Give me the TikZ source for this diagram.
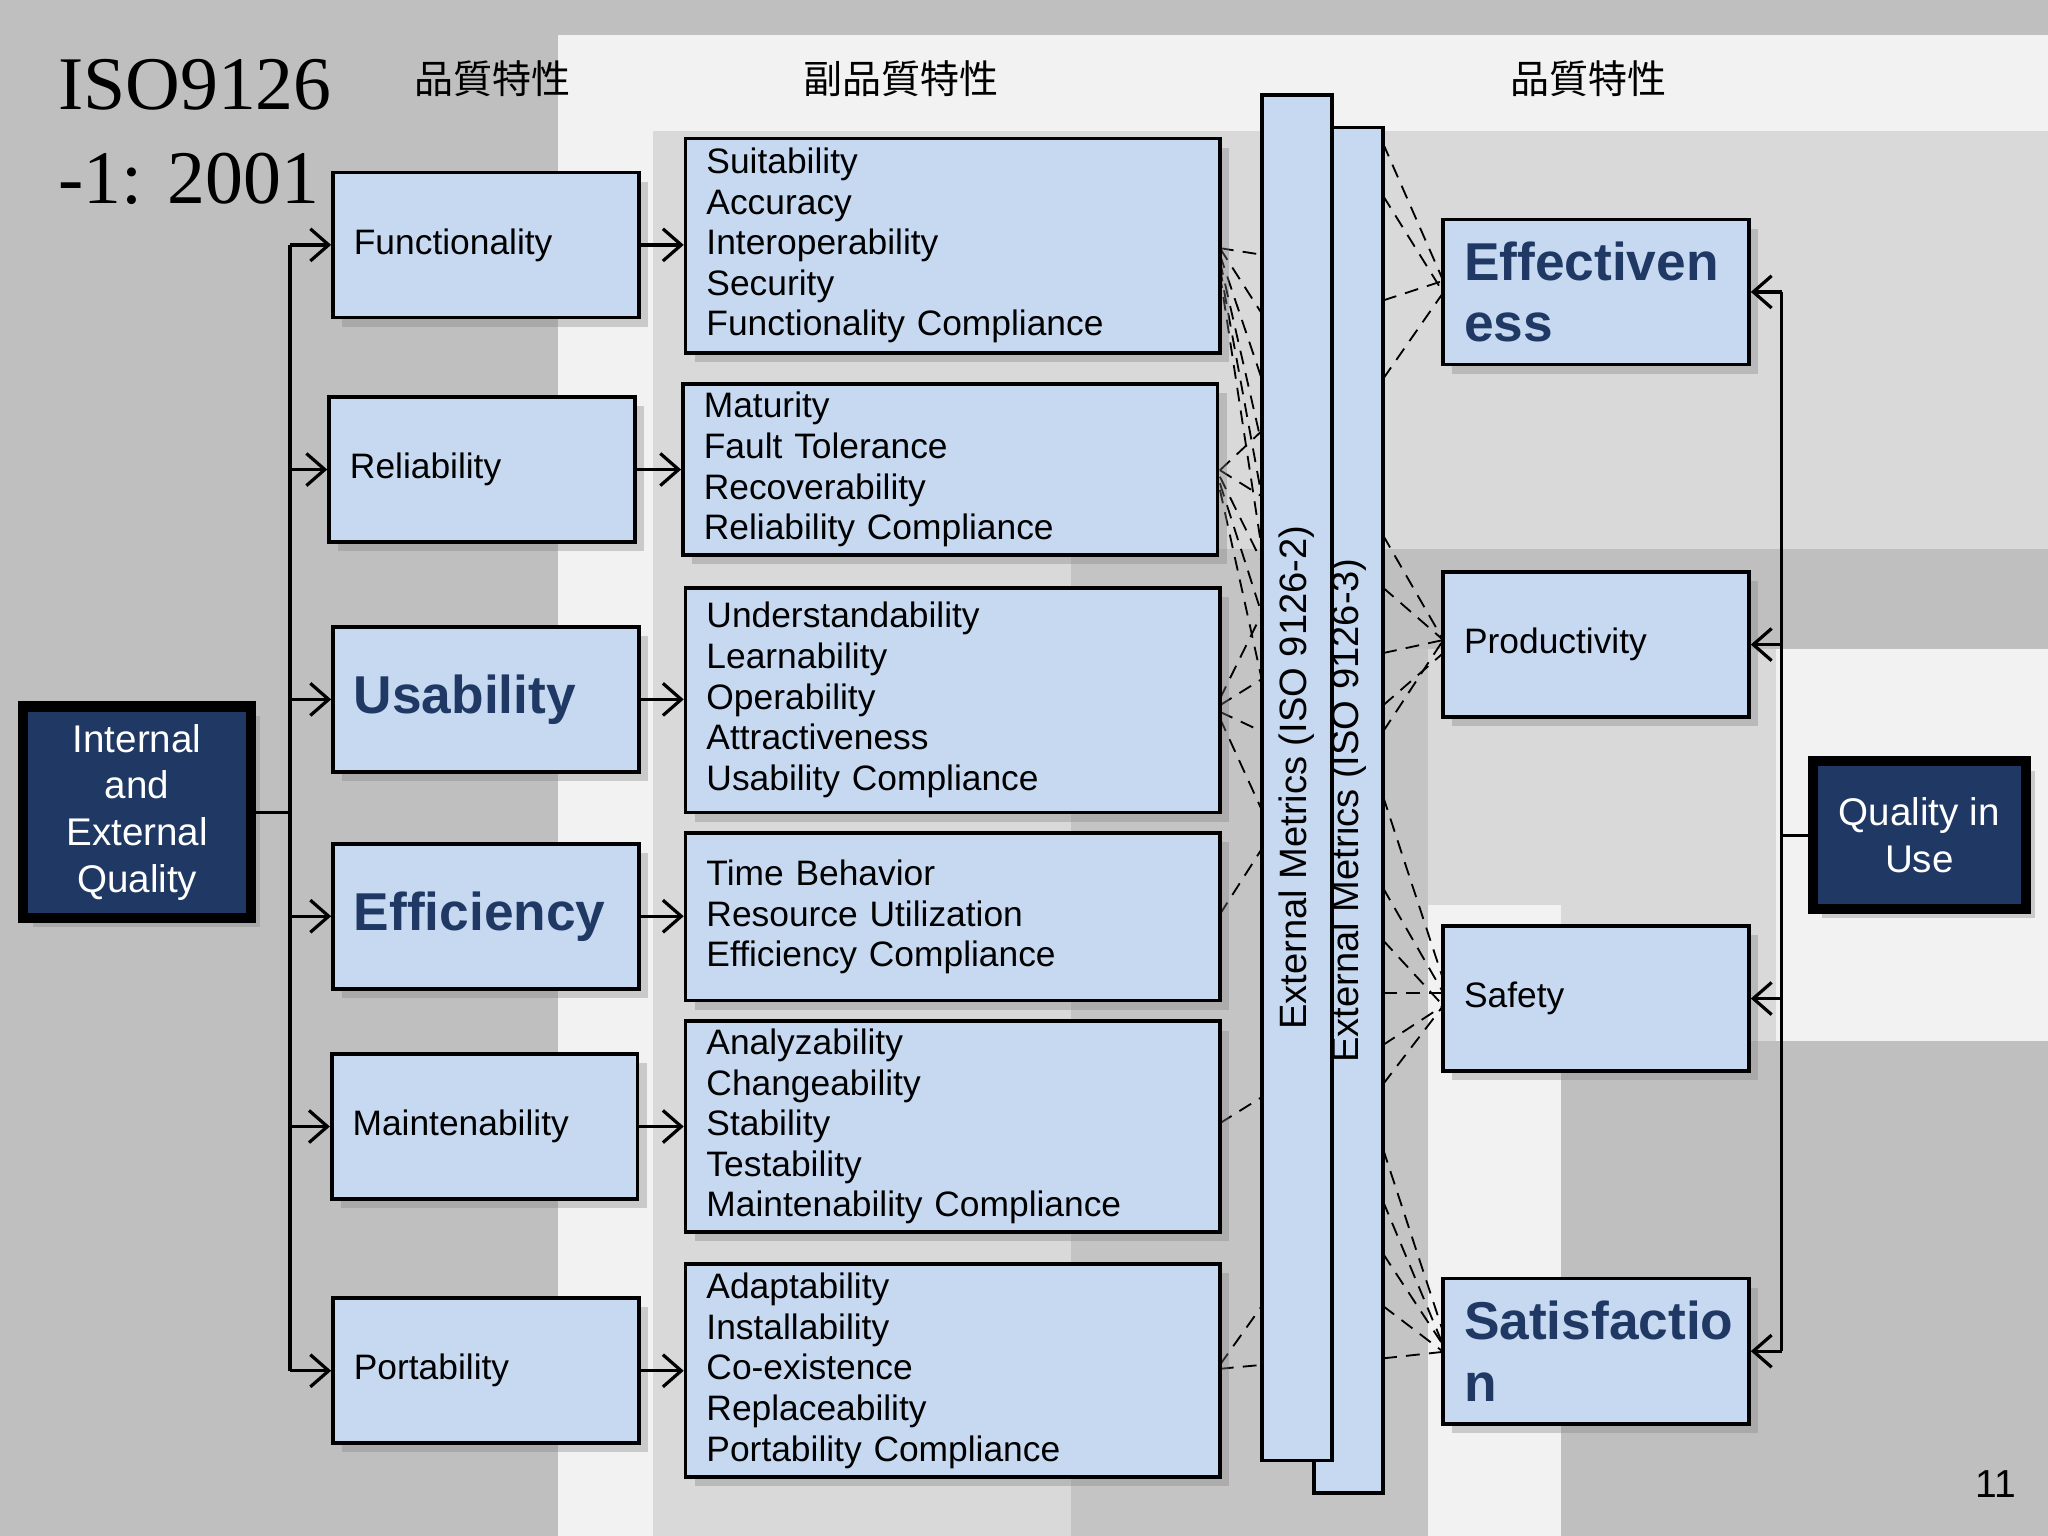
\documentclass[tikz,border=0pt]{standalone}
\usepackage{fontspec}
\setmainfont{Liberation Sans}
\newfontfamily\cjk{Noto Sans CJK JP}
\newfontfamily\serifx{Liberation Serif}
\usetikzlibrary{shadows,arrows.meta}
\definecolor{boxblue}{HTML}{C6D9F1}
\definecolor{navy}{HTML}{1F3864}
\definecolor{gA}{HTML}{BFBFBF}
\definecolor{gB}{HTML}{F2F2F2}
\definecolor{gC}{HTML}{D9D9D9}
\tikzset{
  box/.style={draw=black, fill=boxblue, line width=0.8pt, drop shadow={shadow xshift=2pt,shadow yshift=-2pt,opacity=0.35},
    align=left, inner xsep=0.16cm, inner ysep=0.04cm, font=\fontsize{7.7}{8.85}\selectfont, anchor=center},
  lbox/.style={box, minimum width=2.34cm, minimum height=1.11cm, text width=2.02cm},
  sbox/.style={box, minimum width=4.09cm, text width=3.77cm},
  big/.style={font=\fontsize{11.6}{13.4}\selectfont\bfseries, text=navy},
  dbox/.style={draw=black, fill=navy, line width=2.2pt, text=white, align=center, font=\fontsize{8.4}{10.2}\selectfont,
    drop shadow={shadow xshift=2pt,shadow yshift=-2pt,opacity=0.35}},
  bar/.style={draw=black, fill=boxblue, line width=0.8pt, rotate=90, minimum width=10.45cm, font=\fontsize{8.3}{9}\selectfont},
  arr/.style={-{Straight Barb[length=4pt,width=7pt]}, line width=0.7pt},
  dsh/.style={densely dashed, line width=0.4pt},
  head/.style={font=\cjk\fontsize{8.5}{9}\selectfont}
}
\begin{document}
\begin{tikzpicture}[x=0.01cm,y=-0.01cm]
\useasboundingbox (0,0) rectangle (1568,1176);
% background
\fill[gA] (0,0) rectangle (1568,1176);
\fill[gB] (427,27) rectangle (1568,1176);
\fill[gC] (500,100) rectangle (1568,1176);
\fill[gA!80!gC] (820,420) rectangle (1093,1176);
\fill[gA] (1060,420) rectangle (1568,497);
\fill[gB] (1360,497) rectangle (1568,797);
\fill[gB] (1093,693) rectangle (1195,1176);
\fill[gA] (1195,797) rectangle (1568,1176);
% titles
\node[anchor=west, font=\serifx\fontsize{16.5}{20}\selectfont] (t1) at (32,65) {ISO9126};
\node[anchor=west, font=\serifx\fontsize{16.5}{20}\selectfont] (t2) at (32,137) {-1: 2001};
\node[head] (h1) at (377,60) {品質特性};
\node[head] (h2) at (690,60) {副品質特性};
\node[head] (h3) at (1216,60) {品質特性};
\node[font=\fontsize{8.5}{9}\selectfont] (pg) at (1528,1136) {11};
% metric bars
\node[bar, minimum height=0.53cm] (m2) at (1032.5,620.5) {\raisebox{-0.08cm}{External Metrics (ISO 9126-3)}};
\node[bar, minimum height=0.54cm] (m1) at (993,595.5) {External Metrics (ISO 9126-2)};
% dashed links
\foreach \a/\b in {190/195,190/240,195/290,200/340,205/380,210/420,
                   360/330,360/380,365/430,370/470,375/520,
                   535/470,540/520,545/560,550/620,
                   700/650,860/840,1045/1000,1048/1045}
  \draw[dsh] (934,\a) -- (966,\b);
\foreach \a/\b in {110/215,150/224,230/215,290/224,
                   410/490,450/490,500/490,540/500,560/490,
                   610/750,680/760,720/770,760/760,800/770,830/770,
                   880/1020,920/1030,960/1030,1000/1035,1040/1035}
  \draw[dsh] (1059,\a) -- (1105,\b);
% left boxes
\node[dbox, minimum width=1.74cm, minimum height=1.62cm] (iq) at (105,622) {Internal\\and\\External\\Quality};
\node[lbox] (f) at (372,187.5) {Functionality};
\node[lbox] (r) at (369,359.5) {Reliability};
\node[lbox, big] (u) at (372,535.5) {Usability};
\node[lbox, big] (e) at (372,701.5) {Efficiency};
\node[lbox] (ma) at (371,862.5) {Maintenability};
\node[lbox] (p) at (372,1049.5) {Portability};
% sub boxes
\node[sbox, minimum height=1.64cm] (sf) at (729.5,188) {Suitability\\Accuracy\\Interoperability\\Security\\Functionality Compliance};
\node[sbox, minimum height=1.31cm] (sr) at (727.5,359.5) {Maturity\\Fault Tolerance\\Recoverability\\Reliability Compliance};
\node[sbox, minimum height=1.72cm] (su) at (729.5,536) {Understandability\\Learnability\\Operability\\Attractiveness\\Usability Compliance};
\node[sbox, minimum height=1.28cm] (se) at (729.5,702) {Time Behavior\\Resource Utilization\\Efficiency Compliance};
\node[sbox, minimum height=1.61cm] (sm) at (729.5,862.5) {Analyzability\\Changeability\\Stability\\Testability\\Maintenability Compliance};
\node[sbox, minimum height=1.63cm] (sp) at (729.5,1049.5) {Adaptability\\Installability\\Co-existence\\Replaceability\\Portability Compliance};
% right boxes
\node[lbox, big] (ef) at (1222,223.5) {Effectiven\\ess};
\node[lbox] (pr) at (1222,493.5) {Productivity};
\node[lbox] (sa) at (1222,764.5) {Safety};
\node[lbox, big] (sat) at (1222,1034.5) {Satisfactio\\n};
\node[dbox, minimum width=1.63cm, minimum height=1.13cm] (qu) at (1469.5,639.5) {Quality in\\Use};
% tree left
\coordinate (jl) at (222,622);
\draw[line width=0.7pt] (iq.east) -- (jl);
\draw[line width=0.7pt] (222,187.5) -- (222,1049.5);
\foreach \n in {f,r,u,e,ma,p} \draw[arr] (jl |- \n.west) -- (\n.west);
\foreach \n/\s in {f/sf,r/sr,u/su,e/se,ma/sm,p/sp} \draw[arr] (\n.east) -- (\s.west |- \n.east);
% tree right
\coordinate (jr) at (1364,639.5);
\draw[line width=0.7pt] (qu.west) -- (jr);
\draw[line width=0.7pt] (1364,223.5) -- (1364,1034.5);
\foreach \n in {ef,pr,sa,sat} \draw[arr] (jr |- \n.east) -- (\n.east);
\end{tikzpicture}
\end{document}
